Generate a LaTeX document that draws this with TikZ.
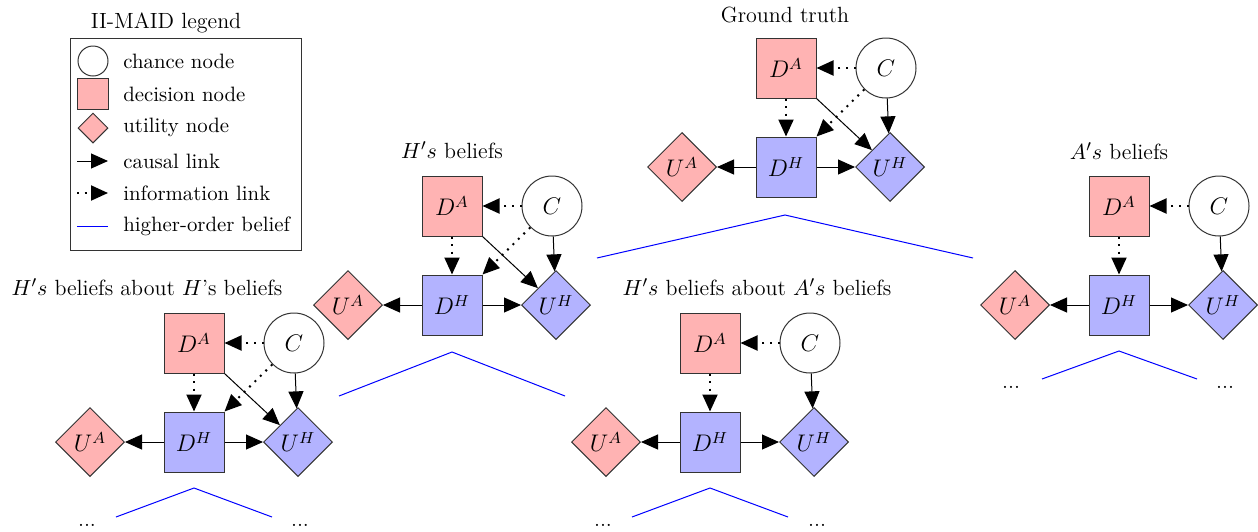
\documentclass[tikz,border=0pt]{standalone}
\usetikzlibrary{arrows.meta,shapes.geometric}
\definecolor{pinkf}{HTML}{FFB3B3}
\definecolor{bluef}{HTML}{B3B3FF}
\newcommand\maidgraph[5]{% #1 prefix, #2 x, #3 y of D^A centre, #4 full?, #5 unused
  \begin{scope}[shift={(#2,#3)}]
    \node[dnode,agA] (#1DA) at (0,0) {$D^A$};
    \node[cnode] (#1C) at (100,0) {$C$};
    \node[dnode,agH] (#1DH) at (0,99) {$D^H$};
    \node[unode,agA] (#1UA) at (-104,99) {$U^A$};
    \node[unode,agH] (#1UH) at (104,99) {$U^H$};
    \draw[info] (#1C) -- (#1DA);
    \draw[info] (#1DA) -- (#1DH);
    \draw[causal] (#1DH) -- (#1UA);
    \draw[causal] (#1DH) -- (#1UH);
    \draw[causal] (#1C) -- (#1UH);
    \ifnum#4=1
      \draw[info] (#1C) -- (#1DH.north east);
      \draw[causal] (#1DA.south east) -- (#1UH);
    \fi
  \end{scope}}
\begin{document}
\begin{tikzpicture}[x=0.5pt,y=-0.5pt, font=\fontsize{11}{13}\selectfont,
  gfont/.style={font=\fontsize{12}{14}\selectfont},
  dnode/.style={rectangle,draw=black!80,line width=0.5pt,minimum size=30pt,inner sep=0pt,gfont},
  cnode/.style={circle,draw=black!80,line width=0.5pt,minimum size=30pt,inner sep=0pt,gfont},
  unode/.style={diamond,draw=black!80,line width=0.5pt,minimum width=34.5pt,minimum height=34.5pt,inner sep=0pt,gfont},
  agA/.style={fill=pinkf}, agH/.style={fill=bluef},
  causal/.style={-{Triangle[length=8.5pt,width=7.5pt]},line width=0.5pt},
  info/.style={-{Triangle[length=8.5pt,width=7.5pt]},line width=1pt,dash pattern=on 1pt off 2.8pt},
  belief/.style={blue,line width=0.5pt},
  legtext/.style={anchor=west,inner sep=0pt,font=\fontsize{10.4}{12}\selectfont},
  dots/.style={inner sep=0pt}
]
\useasboundingbox (0,0) rectangle (1258,531);

% ---------- legend ----------
\node (legtitle) at (166,23) {II-MAID legend};
\node[draw=black!80,line width=0.5pt,minimum width=115.5pt,minimum height=106pt,inner sep=0pt] (legbox) at (185.5,144) {};
\node[cnode,minimum size=15pt] (lc) at (93,61) {};
\node[legtext] (lct) at (123,61) {chance node};
\node[dnode,agA,minimum size=15.5pt] (ld) at (93,94) {};
\node[legtext] (ldt) at (123,94) {decision node};
\node[unode,agA,minimum width=15pt,minimum height=15pt] (lu) at (93,128) {};
\node[legtext] (lut) at (123,127) {utility node};
\coordinate (lca) at (77,161); \coordinate (lcb) at (108,161);
\draw[causal] (lca) -- (lcb);
\node[legtext] (lcat) at (123,161) {causal link};
\coordinate (lia) at (77,193); \coordinate (lib) at (108,193);
\draw[info] (lia) -- (lib);
\node[legtext] (liat) at (123,193) {information link};
\coordinate (lba) at (77,226); \coordinate (lbb) at (108,226);
\draw[belief] (lba) -- (lbb);
\node[legtext] (lbat) at (123,226) {higher-order belief};

% ---------- titles ----------
\node (tgt) at (785,15) {Ground truth};
\node (th) at (452,150) {$H's$ beliefs};
\node (ta) at (1119,151) {$A's$ beliefs};
\node (thh) at (147,287) {$H's$ beliefs about $H$'s beliefs};
\node (tha) at (757,287) {$H's$ beliefs about $A's$ beliefs};

% ---------- graphs ----------
\maidgraph{g}{786}{68}{1}{}
\maidgraph{h}{452}{206}{1}{}
\maidgraph{a}{1119}{206}{0}{}
\maidgraph{hh}{194}{343}{1}{}
\maidgraph{ha}{710}{343}{0}{}

% ---------- higher-order belief lines ----------
\coordinate (gl) at (597,258); \coordinate (gp) at (785,215); \coordinate (gr) at (973,258);
\draw[belief] (gl) -- (gp) -- (gr);
\coordinate (hl) at (339,396); \coordinate (hp) at (452,352); \coordinate (hr) at (565,396);
\draw[belief] (hl) -- (hp) -- (hr);
\coordinate (al) at (1042,379); \coordinate (ap) at (1119,351); \coordinate (ar) at (1197,379);
\draw[belief] (al) -- (ap) -- (ar);
\node[dots] (ad1) at (1011,387) {...};
\node[dots] (ad2) at (1225,387) {...};
\coordinate (hhl) at (116,517); \coordinate (hhp) at (194,488); \coordinate (hhr) at (272,517);
\draw[belief] (hhl) -- (hhp) -- (hhr);
\node[dots] (hhd1) at (87,525) {...};
\node[dots] (hhd2) at (300,525) {...};
\coordinate (hal) at (632,517); \coordinate (hap) at (710,488); \coordinate (har) at (788,517);
\draw[belief] (hal) -- (hap) -- (har);
\node[dots] (had1) at (603,525) {...};
\node[dots] (had2) at (817,525) {...};
\end{tikzpicture}
\end{document}
